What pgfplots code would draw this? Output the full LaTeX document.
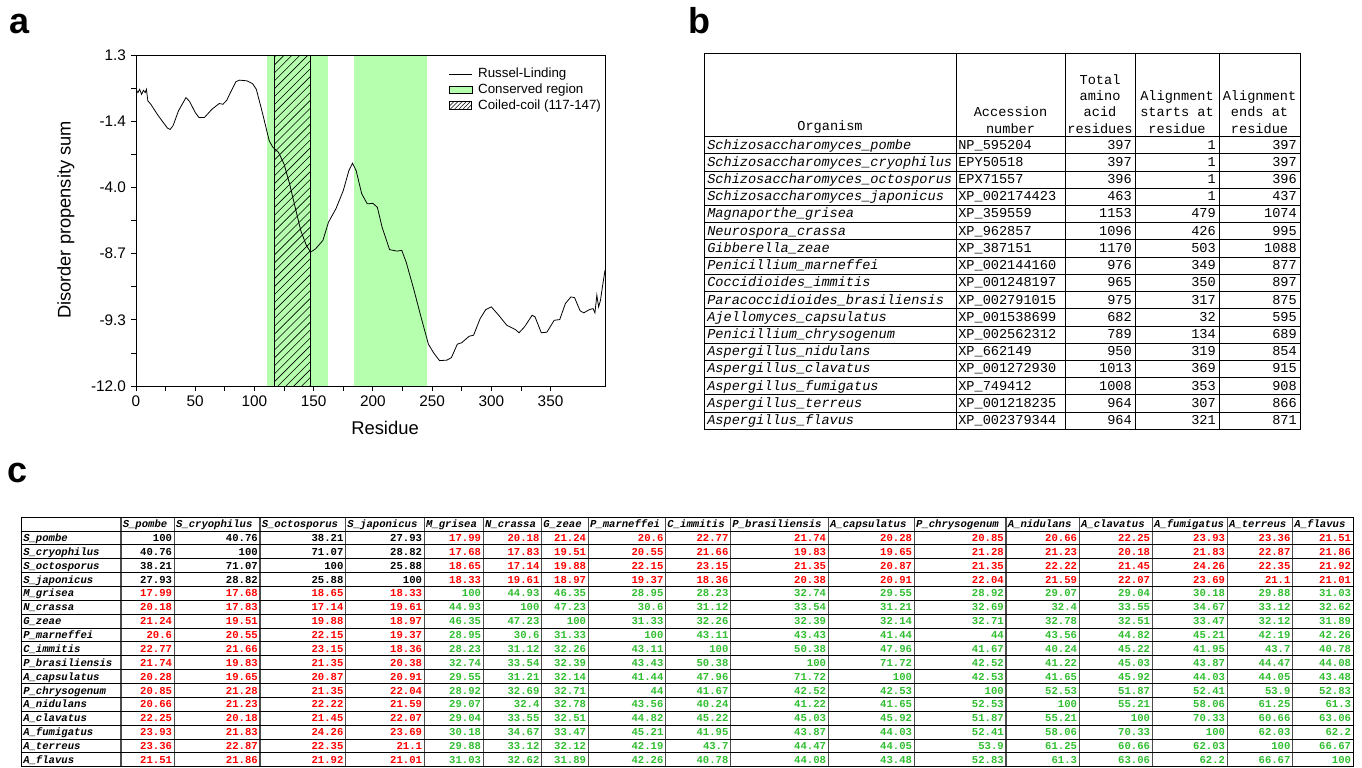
\documentclass[border=0pt]{standalone}
\usepackage{fontspec}
\setmainfont{Liberation Sans}
\newfontfamily\mono{Liberation Mono}
\usepackage{pgfplots}
\pgfplotsset{compat=1.18}
\usetikzlibrary{patterns.meta}
\definecolor{consgreen}{RGB}{181,255,174}
\definecolor{tgreen}{RGB}{48,190,48}
\definecolor{tred}{RGB}{255,0,0}
\tikzset{
  tb/.style={font=\mono\fontsize{10.2}{12.2}\selectfont, inner sep=0pt},
  tc/.style={font=\mono\bfseries\fontsize{7.95}{9}\selectfont, inner sep=0pt},
  plab/.style={font=\bfseries\fontsize{27}{30}\selectfont, inner sep=0pt, anchor=base west}
}
\begin{document}
\begin{tikzpicture}[x=0.75pt, y=-0.75pt]
\path[use as bounding box] (0,0) rectangle (1362,767);
\coordinate (aSW) at (136,386);

% ---------- panel a ----------
\begin{axis}[
  at={(aSW)}, anchor=south west,
  scale only axis, width=351.75pt, height=248.25pt,
  xmin=0, xmax=396, ymin=-12, ymax=1.3,
  xtick={0,50,...,350},
  ytick={-12,-9.34,-6.68,-4.02,-1.36,1.3},
  yticklabels={-12.0,-9.3,-8.7,-4.0,-1.4,1.3},
  minor x tick num=1, minor y tick num=1,
  xtick pos=bottom, ytick pos=left,
  tick align=outside,
  major tick length=4pt, minor tick length=3.5pt,
  tick style={black, line width=0.6pt},
  axis line style={line width=0.75pt},
  tick label style={font=\fontsize{11.5}{13}\selectfont},
  /pgf/number format/assume math mode=true,
  axis on top,
  legend cell align=left,
  legend style={draw=none, fill=none, at={(0.666,0.967)}, anchor=north west,
    font=\fontsize{10}{12}\selectfont, inner sep=0pt, nodes={inner sep=1.5pt},
    /tikz/every odd column/.append style={column sep=3pt}},
]
\addlegendimage{black, line width=0.6pt}
\addlegendentry{Russel-Linding}
\addlegendimage{area legend, fill=consgreen, draw=none}
\addlegendentry{Conserved region}
\addlegendimage{area legend, pattern={Lines[angle=45,distance=2.2pt,line width=0.4pt]}, draw=black, line width=0.5pt}
\addlegendentry{Coiled-coil (117-147)}

% conserved regions
\addplot[fill=consgreen, draw=none, forget plot] coordinates {(111,-12) (111,1.3) (162,1.3) (162,-12)};
\addplot[fill=consgreen, draw=none, forget plot] coordinates {(184,-12) (184,1.3) (246,1.3) (246,-12)};
% coiled coil
\addplot[pattern={Lines[angle=45,distance=4.2pt,line width=0.45pt]}, draw=black, line width=0.6pt, forget plot]
  coordinates {(117,-12) (117,1.3) (147,1.3) (147,-12) (117,-12)};

% Russel-Linding profile
\addplot[black, line width=0.6pt, forget plot] coordinates {
(0,-0.08) (1.6,-0.21) (3.1,-0.08) (4.7,-0.28) (6.3,-0.12) (7.8,-0.21) (8.8,-0.08)
(10,-0.54) (12.5,-0.68) (18.8,-1.14) (26.6,-1.64) (28.8,-1.69) (31.3,-1.54)
(35.9,-0.94) (42.2,-0.41) (45.3,-0.57) (50,-1.01) (53.1,-1.21) (57.8,-1.21)
(64.1,-0.88) (70.3,-0.65) (73.4,-0.68) (76.6,-0.52) (79.7,-0.21) (84.4,0.23)
(87.5,0.29) (93.8,0.26) (98.4,0.15) (101.6,-0.08) (106.3,-0.94) (112.5,-2.15)
(115.6,-2.41) (120.3,-2.61) (125,-3.08) (129.7,-3.88) (134.4,-4.82) (139.1,-5.75)
(143.8,-6.35) (147.5,-6.62) (151.6,-6.49) (157.8,-6.15) (162.5,-5.42) (168.8,-4.88)
(175,-4.15) (179.7,-3.35) (182.8,-3.05) (185.9,-3.35) (190.6,-4.28) (195.3,-4.68)
(200,-4.66) (203.8,-4.82) (207.8,-5.62) (214.1,-6.52) (220.3,-6.58) (224.4,-6.55)
(228.1,-7.02) (234.4,-8.09) (240.6,-9.22) (246.9,-10.32) (251.6,-10.69) (256.3,-10.98)
(262.5,-10.96) (266.3,-10.86) (271.3,-10.32) (275,-10.26) (281.3,-10.00) (285,-9.96)
(290.6,-9.29) (295.3,-8.93) (300,-8.82) (306.3,-9.16) (313.1,-9.56) (320.3,-9.73)
(323.4,-9.86) (328.1,-9.62) (334.4,-9.16) (336.9,-9.22) (342.2,-9.86) (346.9,-9.84)
(353.1,-9.36) (357.8,-9.33) (362.5,-8.69) (367.2,-8.42) (370.3,-8.45) (375,-8.98)
(378.1,-9.06) (382.8,-8.93) (385.9,-8.89) (387.5,-9.06) (389.1,-8.35) (390.6,-8.82)
(392.2,-8.55) (393.8,-8.02) (396,-7.35)
};
\end{axis}

\node[font=\fontsize{13.8}{16}\selectfont] at (385,428) {Residue};
\node[font=\fontsize{13.7}{16}\selectfont, rotate=90] at (66,220) {Disorder propensity sum};

\node[plab] at (9,34) {a};
\node[plab] at (688,34) {b};
\node[plab] at (7,482) {c};

% ---------- panel b ----------
\def\bhead{136.5}
\def\brow{17.22}
\draw[line width=0.75pt] (704,54) rectangle (1300,429.3);
\foreach \xx in {956,1065,1135,1219} \draw[line width=0.6pt] (\xx,54) -- (\xx,429.3);
\foreach \kk in {0,...,16} \draw[line width=0.6pt] (704,\bhead+\kk*\brow) -- (1300,\bhead+\kk*\brow);

\node[tb, align=center, anchor=south] at (830,\bhead-3) {Organism};
\node[tb, align=center, anchor=south] at (1010.5,\bhead-3) {Accession\\number};
\node[tb, align=center, anchor=south] at (1100,\bhead-3) {Total\\amino\\acid\\residues};
\node[tb, align=center, anchor=south] at (1177,\bhead-3) {Alignment\\starts at\\residue};
\node[tb, align=center, anchor=south] at (1259.5,\bhead-3) {Alignment\\ends at\\residue};

\foreach \org/\acc/\tot/\st/\en [count=\ii] in {
  Schizosaccharomyces\_pombe/NP\_595204/397/1/397,
  Schizosaccharomyces\_cryophilus/EPY50518/397/1/397,
  Schizosaccharomyces\_octosporus/EPX71557/396/1/396,
  Schizosaccharomyces\_japonicus/XP\_002174423/463/1/437,
  Magnaporthe\_grisea/XP\_359559/1153/479/1074,
  Neurospora\_crassa/XP\_962857/1096/426/995,
  Gibberella\_zeae/XP\_387151/1170/503/1088,
  Penicillium\_marneffei/XP\_002144160/976/349/877,
  Coccidioides\_immitis/XP\_001248197/965/350/897,
  Paracoccidioides\_brasiliensis/XP\_002791015/975/317/875,
  Ajellomyces\_capsulatus/XP\_001538699/682/32/595,
  Penicillium\_chrysogenum/XP\_002562312/789/134/689,
  Aspergillus\_nidulans/XP\_662149/950/319/854,
  Aspergillus\_clavatus/XP\_001272930/1013/369/915,
  Aspergillus\_fumigatus/XP\_749412/1008/353/908,
  Aspergillus\_terreus/XP\_001218235/964/307/866,
  Aspergillus\_flavus/XP\_002379344/964/321/871} {
  \pgfmathsetmacro\yb{\bhead+(\ii-0.5)*\brow+4}
  \node[tb, anchor=base west] at (707,\yb) {\itshape\org};
  \node[tb, anchor=base west] at (958,\yb) {\acc};
  \node[tb, anchor=base east] at (1132,\yb) {\tot};
  \node[tb, anchor=base east] at (1216,\yb) {\st};
  \node[tb, anchor=base east] at (1297,\yb) {\en};
}

% ---------- panel c ----------
\def\cx{{21,121,174.3,260,345.7,424.3,483.3,541.7,588.3,665.7,730.7,828.3,914.3,1006,1079.3,1152.3,1227.3,1292.7,1353.3}}
\def\ctop{517.3}
\def\chead{530.9}
\def\crow{13.87}
\foreach \kk in {1,...,17} {
  \pgfmathsetmacro\xv{\cx[\kk]}
  \draw[gray!60!black, line width=0.9pt] (\xv,\ctop) -- (\xv,766.6);
}
\foreach \kk in {0,...,16} \draw[line width=0.6pt] (21,\chead+\kk*\crow) -- (1353.3,\chead+\kk*\crow);
\draw[line width=0.75pt] (21,\ctop) rectangle (1353.3,766.6);

\foreach \nm [count=\jj] in {S\_pombe,S\_cryophilus,S\_octosporus,S\_japonicus,M\_grisea,N\_crassa,G\_zeae,P\_marneffei,C\_immitis,P\_brasiliensis,A\_capsulatus,P\_chrysogenum,A\_nidulans,A\_clavatus,A\_fumigatus,A\_terreus,A\_flavus} {
  \pgfmathsetmacro\xl{\cx[\jj]+1.5}
  \node[tc, anchor=base west] at (\xl,527.6) {\itshape\nm};
  \pgfmathsetmacro\yl{\chead+(\jj-0.5)*\crow+3.6}
  \node[tc, anchor=base west] at (23,\yl) {\itshape\nm};
}

\foreach \vals [count=\ii] in {
  {100,40.76,38.21,27.93,17.99,20.18,21.24,20.6,22.77,21.74,20.28,20.85,20.66,22.25,23.93,23.36,21.51},
  {40.76,100,71.07,28.82,17.68,17.83,19.51,20.55,21.66,19.83,19.65,21.28,21.23,20.18,21.83,22.87,21.86},
  {38.21,71.07,100,25.88,18.65,17.14,19.88,22.15,23.15,21.35,20.87,21.35,22.22,21.45,24.26,22.35,21.92},
  {27.93,28.82,25.88,100,18.33,19.61,18.97,19.37,18.36,20.38,20.91,22.04,21.59,22.07,23.69,21.1,21.01},
  {17.99,17.68,18.65,18.33,100,44.93,46.35,28.95,28.23,32.74,29.55,28.92,29.07,29.04,30.18,29.88,31.03},
  {20.18,17.83,17.14,19.61,44.93,100,47.23,30.6,31.12,33.54,31.21,32.69,32.4,33.55,34.67,33.12,32.62},
  {21.24,19.51,19.88,18.97,46.35,47.23,100,31.33,32.26,32.39,32.14,32.71,32.78,32.51,33.47,32.12,31.89},
  {20.6,20.55,22.15,19.37,28.95,30.6,31.33,100,43.11,43.43,41.44,44,43.56,44.82,45.21,42.19,42.26},
  {22.77,21.66,23.15,18.36,28.23,31.12,32.26,43.11,100,50.38,47.96,41.67,40.24,45.22,41.95,43.7,40.78},
  {21.74,19.83,21.35,20.38,32.74,33.54,32.39,43.43,50.38,100,71.72,42.52,41.22,45.03,43.87,44.47,44.08},
  {20.28,19.65,20.87,20.91,29.55,31.21,32.14,41.44,47.96,71.72,100,42.53,41.65,45.92,44.03,44.05,43.48},
  {20.85,21.28,21.35,22.04,28.92,32.69,32.71,44,41.67,42.52,42.53,100,52.53,51.87,52.41,53.9,52.83},
  {20.66,21.23,22.22,21.59,29.07,32.4,32.78,43.56,40.24,41.22,41.65,52.53,100,55.21,58.06,61.25,61.3},
  {22.25,20.18,21.45,22.07,29.04,33.55,32.51,44.82,45.22,45.03,45.92,51.87,55.21,100,70.33,60.66,63.06},
  {23.93,21.83,24.26,23.69,30.18,34.67,33.47,45.21,41.95,43.87,44.03,52.41,58.06,70.33,100,62.03,62.2},
  {23.36,22.87,22.35,21.1,29.88,33.12,32.12,42.19,43.7,44.47,44.05,53.9,61.25,60.66,62.03,100,66.67},
  {21.51,21.86,21.92,21.01,31.03,32.62,31.89,42.26,40.78,44.08,43.48,52.83,61.3,63.06,62.2,66.67,100}} {
  \pgfmathsetmacro\yv{\chead+(\ii-0.5)*\crow+3.6}
  \foreach \val [count=\jj] in \vals {
    \pgfmathsetmacro\xr{\cx[\jj+1]-2}
    \pgfmathtruncatemacro\grp{(\ii<5)+(\jj<5)}
    \edef\col{\ifcase\grp tgreen\or tred\else black\fi}
    \node[tc, anchor=base east, text=\col] at (\xr,\yv) {\val};
  }
}
\end{tikzpicture}
\end{document}
